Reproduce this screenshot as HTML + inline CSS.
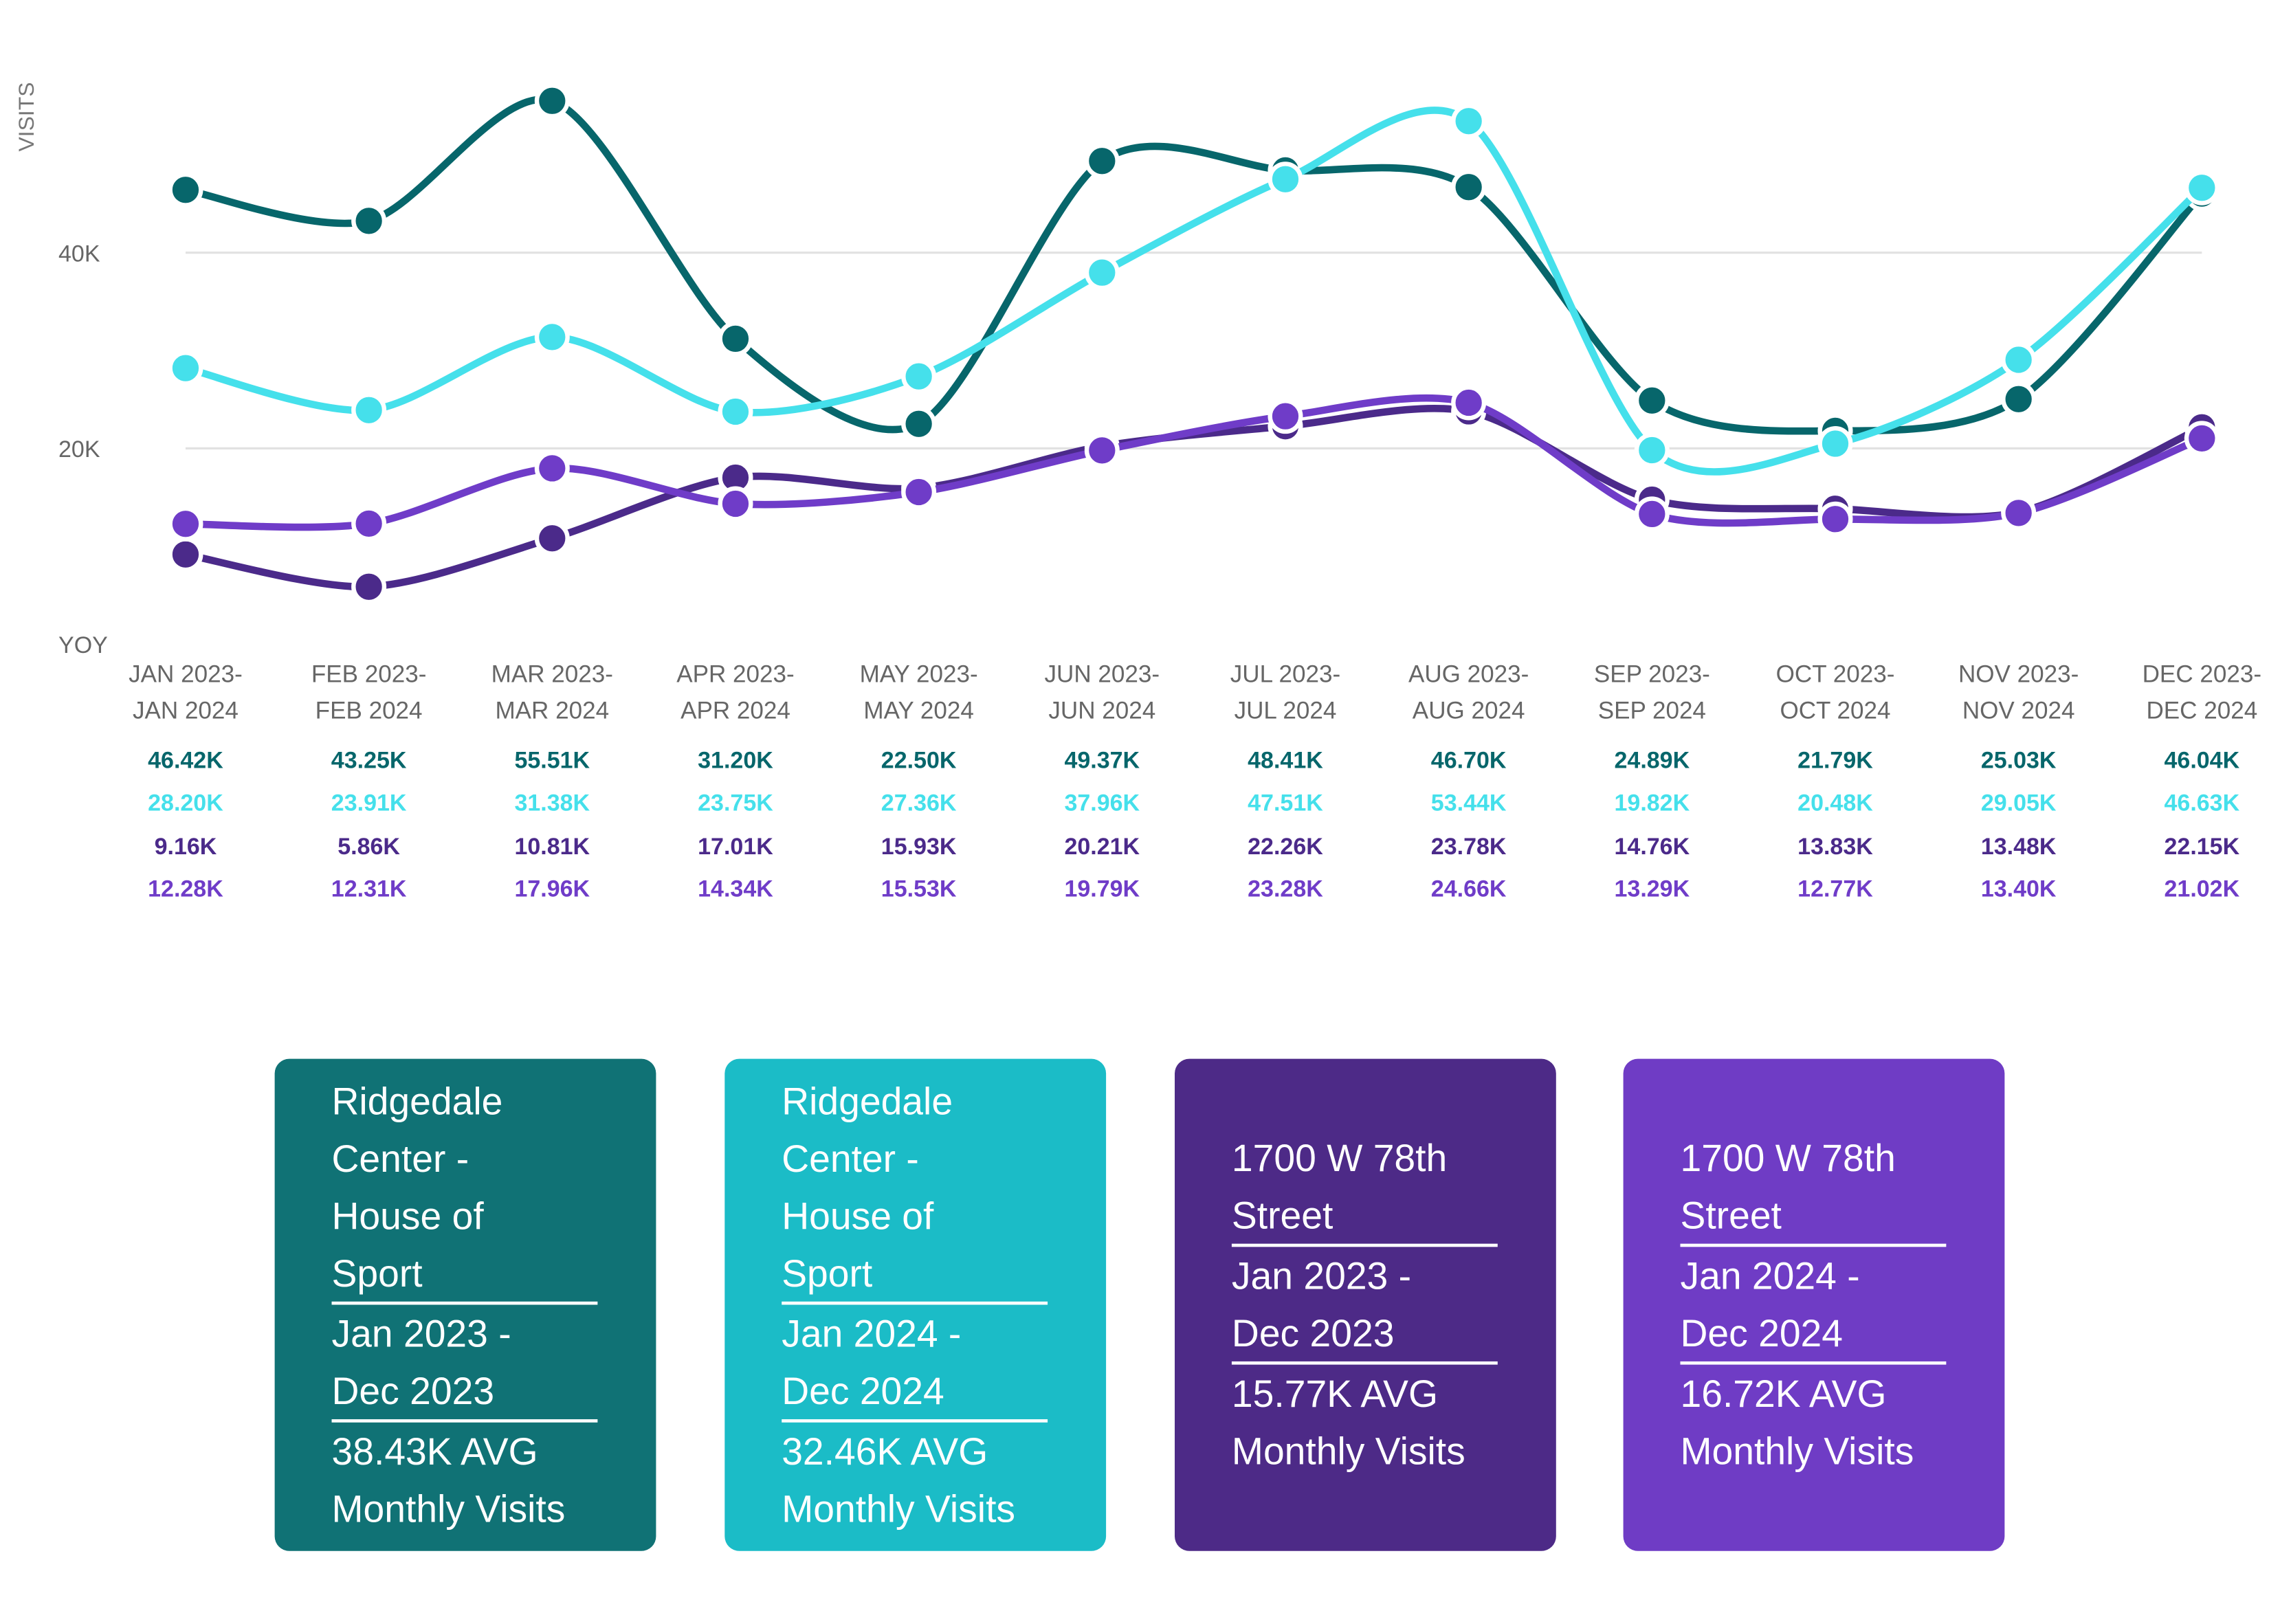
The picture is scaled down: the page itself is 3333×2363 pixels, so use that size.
<!DOCTYPE html>
<html><head><meta charset="utf-8"><style>
html,body{margin:0;padding:0;background:#fff;}
svg{display:block;font-family:"Liberation Sans",sans-serif;}
</style></head><body>
<svg id="chart" width="3333" height="2363" viewBox="0 0 1568 1112" preserveAspectRatio="none" xmlns="http://www.w3.org/2000/svg">
<rect width="1568" height="1112" fill="#fff"/>
<text transform="translate(23,80) rotate(-90)" text-anchor="middle" font-size="15" fill="#777">VISITS</text>
<g id="grid"></g><g id="series"></g><g id="xlabels"></g><g id="values"></g><g id="cards"></g>
</svg>
<script>
const categories=["JAN 2023-|JAN 2024","FEB 2023-|FEB 2024","MAR 2023-|MAR 2024","APR 2023-|APR 2024","MAY 2023-|MAY 2024","JUN 2023-|JUN 2024","JUL 2023-|JUL 2024","AUG 2023-|AUG 2024","SEP 2023-|SEP 2024","OCT 2023-|OCT 2024","NOV 2023-|NOV 2024","DEC 2023-|DEC 2024"];
const ridge2023=[46.42,43.25,55.51,31.20,22.50,49.37,48.41,46.70,24.89,21.79,25.03,46.04];
const ridge2024=[28.20,23.91,31.38,23.75,27.36,37.96,47.51,53.44,19.82,20.48,29.05,46.63];
const w78_2023=[9.16,5.86,10.81,17.01,15.93,20.21,22.26,23.78,14.76,13.83,13.48,22.15];
const w78_2024=[12.28,12.31,17.96,14.34,15.53,19.79,23.28,24.66,13.29,12.77,13.40,21.02];
const yTicks=[0,20,40];
const yTickLabels=["YOY","20K","40K"];
const seriesNames=["ridgedale-2023","ridgedale-2024","w78th-2023","w78th-2024"];
const colors=["#07666b","#45e0eb","#4b2a8a","#6f3cc8"];
const valueColors=["#07666b","#45e0eb","#4b2a8a","#6f3cc8"];
const cardTitles=[["Ridgedale","Center -","House of","Sport"],["Ridgedale","Center -","House of","Sport"],["1700 W 78th","Street"],["1700 W 78th","Street"]];
const cardRanges=[["Jan 2023 -","Dec 2023"],["Jan 2024 -","Dec 2024"],["Jan 2023 -","Dec 2023"],["Jan 2024 -","Dec 2024"]];
const cardAvgs=["38.43K AVG","32.46K AVG","15.77K AVG","16.72K AVG"];
const cardColors=["#107275","#1bbcc7","#4d2a87","#6f3cc5"];

const NS="http://www.w3.org/2000/svg";
function mk(tag,attrs,parent){const e=document.createElementNS(NS,tag);for(const k in attrs)e.setAttribute(k,attrs[k]);parent.appendChild(e);return e;}
const x=i=>127+i*(1507-127)/(categories.length-1);
const y=v=>441-v*6.7;

const grid=document.getElementById('grid');
yTicks.forEach((t,i)=>{
  if(t>0){const l=mk('line',{x1:127,x2:1507,y1:y(t),y2:y(t),stroke:'#e2e2e2','stroke-width':1.5},grid);
  
  }
  const tx=mk('text',{x:40,y:y(t)+6,'font-size':16,fill:'#666'},grid);tx.textContent=yTickLabels[i];
  
  
});

function pathFor(vals){
  const p=vals.map((v,i)=>[x(i),y(v)]);
  let d="M"+p[0][0]+","+p[0][1];
  const k=7;
  for(let i=0;i<p.length-1;i++){
    const p0=p[i-1]||p[i],p1=p[i],p2=p[i+1],p3=p[i+2]||p[i+1];
    const c1=[p1[0]+(p2[0]-p0[0])/k,p1[1]+(p2[1]-p0[1])/k];
    const c2=[p2[0]-(p3[0]-p1[0])/k,p2[1]-(p3[1]-p1[1])/k];
    d+=" C"+c1[0]+","+c1[1]+" "+c2[0]+","+c2[1]+" "+p2[0]+","+p2[1];
  }
  return d;
}
const sg=document.getElementById('series');
[ridge2023,ridge2024,w78_2023,w78_2024].forEach((vals,si)=>{
  const g=mk('g',{},sg);
  
  
  const pth=mk('path',{d:pathFor(vals),fill:'none',stroke:colors[si],'stroke-width':5,'stroke-linecap':'round'},g);
  
  
  vals.forEach((v,i)=>{
    const c=mk('circle',{cx:x(i),cy:y(v),r:10.5,fill:colors[si],stroke:'#fff','stroke-width':3},g);
    
    
  });
});
const xl=document.getElementById('xlabels');
categories.forEach((c,i)=>{
  const parts=c.split('|');
  const t=mk('text',{x:x(i),y:467,'text-anchor':'middle','font-size':16.5,fill:'#666'},xl);
  
  
  mk('tspan',{x:x(i),dy:0},t).textContent=parts[0];
  mk('tspan',{x:x(i),dy:25},t).textContent=parts[1];
});
const vg=document.getElementById('values');
const rowsY=[526,555,585,614];
[ridge2023,ridge2024,w78_2023,w78_2024].forEach((vals,si)=>{
  vals.forEach((v,i)=>{
    const t=mk('text',{x:x(i),y:rowsY[si],'text-anchor':'middle','font-size':16,'font-weight':'bold',fill:valueColors[si]},vg);
    t.textContent=v.toFixed(2)+'K';
    
    
  });
});
const cg=document.getElementById('cards');
const cardX=[188,496,804,1111];
cardColors.forEach((col,ci)=>{
  const g=mk('g',{},cg);
  
  
  mk('rect',{x:cardX[ci],y:725,width:261,height:337,rx:10,fill:col},g);
  const lx=cardX[ci]+39;
  const lines=[...cardTitles[ci],'|',...cardRanges[ci],'|',cardAvgs[ci],'Monthly Visits'];
  let cy=ci<2?763:802;
  lines.forEach(s=>{
    if(s==='|'){mk('rect',{x:lx,y:cy-29,width:182,height:2.2,fill:'#fff'},g);cy+=2;return;}
    const t=mk('text',{x:lx,y:cy,'font-size':26,fill:'#fff'},g);t.textContent=s;
    cy+=39.3;
  });
});
</script>
</body></html>
